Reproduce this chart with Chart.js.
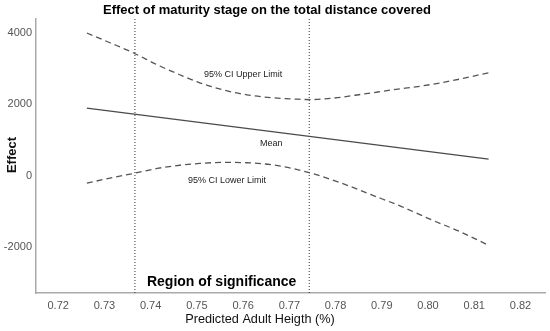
<!DOCTYPE html>
<html>
<head>
<meta charset="utf-8">
<script src="https://cdn.jsdelivr.net/npm/chart.js@4"></script>
<style>
  html, body { margin: 0; padding: 0; background: #fff; }
  #wrap { width: 550px; height: 331px; }
</style>
</head>
<body>
<div id="wrap"><canvas id="c" width="550" height="331"></canvas></div>
<script>
// ---- data ----
const xTicks = [0.72, 0.73, 0.74, 0.75, 0.76, 0.77, 0.78, 0.79, 0.80, 0.81, 0.82];
const yTicks = [-2000, 0, 2000, 4000];

const meanX = [0.7262, 0.8131];
const meanY = [1896, 461];

const upperX = [0.7262, 0.7312, 0.7362, 0.7414, 0.7463, 0.7506, 0.7556, 0.7608, 0.7664, 0.7712, 0.7743, 0.7795, 0.7860, 0.7924, 0.7989, 0.8054, 0.8131];
const upperY = [4006, 3733, 3452, 3114, 2833, 2608, 2411, 2270, 2186, 2150, 2135, 2177, 2290, 2411, 2523, 2672, 2890];

const lowerX = [0.7262, 0.7312, 0.7366, 0.7414, 0.7463, 0.7506, 0.7556, 0.7608, 0.7664, 0.7707, 0.7745, 0.7813, 0.7878, 0.7943, 0.8008, 0.8069, 0.8131];
const lowerY = [-214, -70, 68, 200, 290, 340, 370, 360, 300, 200, 75, -214, -543, -872, -1246, -1575, -1960];

const regionBounds = [0.7366, 0.7743];
const yRange = [-3300, 4400];
const xRange = [0.7152, 0.8253];

const titleText = 'Effect of maturity stage on the total distance covered';
const xTitle = 'Predicted Adult Heigth (%)';
const yTitle = 'Effect';
const regionText = 'Region of significance';

// ---- build datasets ----
const pts = (xs, ys) => xs.map((x, i) => ({ x: x, y: ys[i] }));
const FONT = '"Liberation Sans", Arial, sans-serif';

const datasets = [
  { label: 'Mean', data: pts(meanX, meanY), borderColor: '#4a4a4a', borderWidth: 1.3, pointRadius: 0, tension: 0 },
  { label: '95% CI Upper Limit', data: pts(upperX, upperY), borderColor: '#555', borderWidth: 1.3, borderDash: [6, 4], pointRadius: 0, cubicInterpolationMode: 'monotone' },
  { label: '95% CI Lower Limit', data: pts(lowerX, lowerY), borderColor: '#555', borderWidth: 1.3, borderDash: [6, 4], pointRadius: 0, cubicInterpolationMode: 'monotone' }
];
regionBounds.forEach((b, i) => {
  datasets.push({ label: 'bound' + i, data: pts([b, b], [yRange[1], yRange[0]]), borderColor: '#333', borderWidth: 1, borderDash: [1, 2], pointRadius: 0 });
});

// ---- text plugin ----
const textPlugin = {
  id: 'texts',
  afterDraw(chart) {
    const ctx = chart.ctx, xs = chart.scales.x, ys = chart.scales.y;
    ctx.save();
    ctx.textAlign = 'center';
    ctx.textBaseline = 'middle';
    // title
    ctx.fillStyle = '#000';
    ctx.font = 'bold 13px ' + FONT;
    ctx.fillText(titleText, 267, 10);
    // axis titles
    ctx.font = '12.7px ' + FONT;
    ctx.fillStyle = '#111';
    ctx.fillText(xTitle, 260, 319);
    ctx.save();
    ctx.translate(12, 155);
    ctx.rotate(-Math.PI / 2);
    ctx.font = 'bold 13px ' + FONT;
    ctx.fillText(yTitle, 0, 0);
    ctx.restore();
    // line labels (data coordinates)
    ctx.font = '9px ' + FONT;
    ctx.fillStyle = '#222';
    ctx.fillText('95% CI Upper Limit', xs.getPixelForValue(0.7600), ys.getPixelForValue(2833));
    ctx.fillText('Mean', xs.getPixelForValue(0.7661), ys.getPixelForValue(890));
    ctx.fillText('95% CI Lower Limit', xs.getPixelForValue(0.7565), ys.getPixelForValue(-125));
    // region of significance
    ctx.font = 'bold 14px ' + FONT;
    ctx.fillStyle = '#000';
    ctx.textAlign = 'left';
    ctx.fillText(regionText, xs.getPixelForValue(regionBounds[0]) + 12, 282);
    ctx.restore();
  }
};

new Chart(document.getElementById('c'), {
  type: 'line',
  data: { datasets: datasets },
  plugins: [textPlugin],
  options: {
    responsive: false,
    devicePixelRatio: 1,
    animation: false,
    layout: { padding: { top: 19, right: 5, left: 0, bottom: 0 } },
    plugins: { legend: { display: false }, tooltip: { enabled: false }, title: { display: false } },
    scales: {
      x: {
        type: 'linear', min: xRange[0], max: xRange[1],
        afterBuildTicks: (s) => { s.ticks = xTicks.map(v => ({ value: v })); },
        afterFit: (s) => { s.height = 38; },
        ticks: { callback: (v) => Number(v).toFixed(2), color: '#555', font: { family: FONT, size: 11 }, padding: 6, maxRotation: 0, autoSkip: false },
        grid: { display: false, drawTicks: false },
        border: { display: true, color: '#aaa', width: 1.5 }
      },
      y: {
        min: yRange[0], max: yRange[1],
        afterBuildTicks: (s) => { s.ticks = yTicks.map(v => ({ value: v })); },
        afterFit: (s) => { s.width = 36; },
        ticks: { callback: (v) => String(v), color: '#555', font: { family: FONT, size: 11 }, padding: 4 },
        grid: { display: false, drawTicks: false },
        border: { display: true, color: '#aaa', width: 1.5 }
      }
    }
  }
});
</script>
</body>
</html>
